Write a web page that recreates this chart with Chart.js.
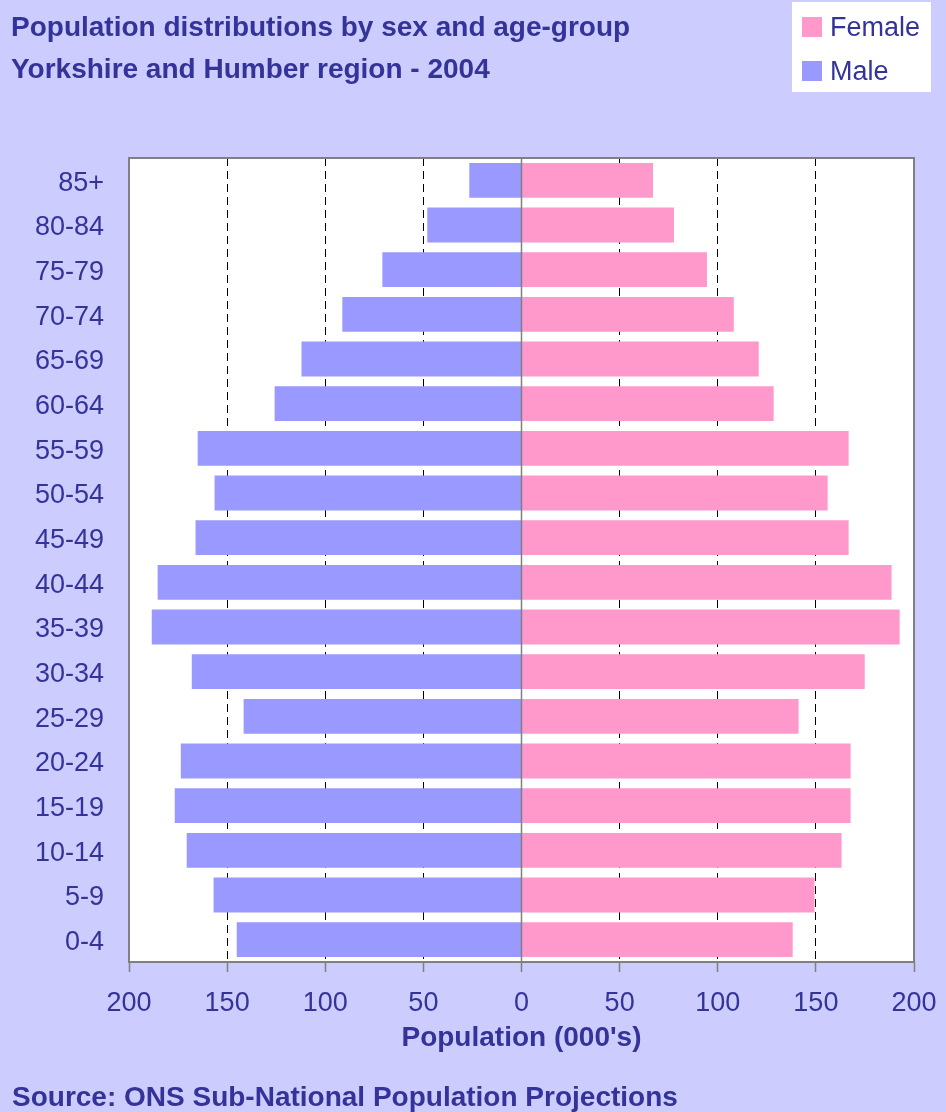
<!DOCTYPE html>
<html>
<head>
<meta charset="utf-8">
<script src="https://cdn.jsdelivr.net/npm/chart.js@4/dist/chart.umd.min.js"></script>
<style>
  html, body { margin: 0; padding: 0; background: #ccccff; }
  canvas { display: block; }
</style>
</head>
<body>
<canvas id="piramide" width="946" height="1112"></canvas>
<script>
// age groups, top of the chart first
const ageGroups = ['85+', '80-84', '75-79', '70-74', '65-69', '60-64', '55-59', '50-54', '45-49',
  '40-44', '35-39', '30-34', '25-29', '20-24', '15-19', '10-14', '5-9', '0-4'];
// population in thousands
const male = [26.6, 48.0, 70.9, 91.3, 112.1, 125.8, 165.0, 156.4, 166.1,
  185.4, 188.4, 168.0, 141.6, 173.6, 176.7, 170.6, 156.9, 145.1];
const female = [67.0, 77.7, 94.5, 108.2, 120.9, 128.5, 166.7, 156.0, 166.7,
  188.6, 192.7, 174.9, 141.2, 167.7, 167.7, 163.1, 149.3, 138.2];
const xTicks = [-200, -150, -100, -50, 0, 50, 100, 150, 200];

const titleLines = ['Population distributions by sex and age-group', 'Yorkshire and Humber region - 2004'];
const sourceText = 'Source: ONS Sub-National Population Projections';

const navy = '#333399';
const fonte = '"Liberation Sans", Arial, sans-serif';

const extras = {
  id: 'extras',
  beforeDraw(chart) {
    const { ctx, chartArea: a } = chart;
    ctx.save();
    ctx.fillStyle = '#ffffff';
    ctx.fillRect(a.left, a.top, a.right - a.left, a.bottom - a.top);
    ctx.restore();
  },
  afterDatasetsDraw(chart) {
    const { ctx, chartArea: a } = chart;
    const x0 = chart.scales.x.getPixelForValue(0);
    ctx.save();
    ctx.strokeStyle = '#808080';
    ctx.lineWidth = 1.5;
    ctx.beginPath();
    ctx.moveTo(x0, a.top);
    ctx.lineTo(x0, a.bottom);
    ctx.stroke();
    ctx.lineWidth = 2;
    ctx.strokeRect(a.left, a.top, a.right - a.left, a.bottom - a.top);
    ctx.restore();
  },
  afterDraw(chart) {
    const ctx = chart.ctx;
    ctx.save();
    ctx.fillStyle = navy;
    ctx.textAlign = 'left';
    ctx.textBaseline = 'alphabetic';
    ctx.font = 'bold 28px ' + fonte;
    ctx.fillText(titleLines[0], 11, 36);
    ctx.fillText(titleLines[1], 11, 78);
    ctx.fillText(sourceText, 12, 1106);

    // legend box
    ctx.fillStyle = '#ffffff';
    ctx.fillRect(792, 2, 139, 90);
    ctx.font = '27px ' + fonte;
    chart.data.datasets.forEach((ds, i) => {
      const y = 17 + i * 44;
      ctx.fillStyle = ds.backgroundColor;
      ctx.fillRect(802, y, 20, 20);
      ctx.fillStyle = navy;
      ctx.fillText(ds.label, 830, y + 19);
    });
    ctx.restore();
  }
};

new Chart(document.getElementById('piramide'), {
  type: 'bar',
  data: {
    labels: ageGroups,
    datasets: [
      { label: 'Female', data: female, backgroundColor: '#ff99cc', borderWidth: 0 },
      { label: 'Male', data: male.map(v => -v), backgroundColor: '#9999ff', borderWidth: 0 }
    ]
  },
  options: {
    indexAxis: 'y',
    responsive: false,
    animation: false,
    devicePixelRatio: 1,
    layout: { padding: { top: 158, right: 32, left: 0, bottom: 0 } },
    datasets: { bar: { barPercentage: 0.78, categoryPercentage: 1 } },
    scales: {
      x: {
        stacked: true,
        min: -200,
        max: 200,
        afterBuildTicks(scale) { scale.ticks = xTicks.map(v => ({ value: v })); },
        afterFit(scale) {
          scale.height = 150;
          scale.paddingLeft = 0;
          scale.paddingRight = 0;
        },
        ticks: {
          callback: v => Math.abs(v),
          color: navy,
          font: { family: fonte, size: 27 },
          padding: 15,
          maxRotation: 0
        },
        grid: {
          color: c => (c.tick && Math.abs(c.tick.value) % 200 === 0) ? 'rgba(0,0,0,0)' : '#000000',
          lineWidth: 1,
          tickColor: '#808080',
          tickLength: 10,
          tickWidth: 1.5
        },
        border: { display: false, dash: [8, 5] },
        title: {
          display: true,
          text: "Population (000's)",
          color: navy,
          font: { family: fonte, size: 28, weight: 'bold' },
          padding: { top: 0, bottom: 57 }
        }
      },
      y: {
        stacked: true,
        afterFit(scale) { scale.width = 129; },
        grid: { display: false },
        border: { display: false },
        ticks: {
          color: navy,
          font: { family: fonte, size: 27 },
          padding: 17,
          labelOffset: 3
        }
      }
    },
    plugins: {
      legend: { display: false },
      tooltip: { enabled: false }
    }
  },
  plugins: [extras]
});
</script>
</body>
</html>
